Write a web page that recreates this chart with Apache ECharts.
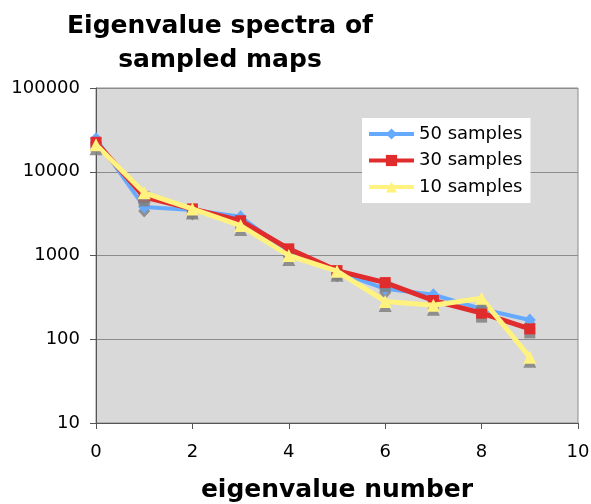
<!DOCTYPE html>
<html>
<head>
<meta charset="utf-8">
<script src="https://cdn.jsdelivr.net/npm/echarts@6/dist/echarts.min.js"></script>
<style>
  html, body { margin: 0; padding: 0; background: #fff; }
  #chart { width: 591px; height: 504px; }
</style>
</head>
<body>
<div id="chart"></div>
<script>
// ---- data ----
const eigenIndex = [0, 1, 2, 3, 4, 5, 6, 7, 8, 9];
const samples50 = [24700, 3800, 3500, 2900, 1100, 640, 400, 340, 230, 170];
const samples30 = [22500, 5000, 3600, 2600, 1200, 660, 475, 290, 205, 133];
const samples10 = [21000, 5600, 3600, 2280, 1000, 650, 283, 254, 308, 61];
const seriesNames = ['50 samples', '30 samples', '10 samples'];
const xTicks = [0, 2, 4, 6, 8, 10];
const yTicks = [10, 100, 1000, 10000, 100000];

const FONT = 'DejaVu Sans';
function pairs(vals) { return eigenIndex.map((x, i) => [x, vals[i]]); }

const chart = echarts.init(document.getElementById('chart'), null, { renderer: 'canvas' });
const shadow = { shadowColor: 'rgba(128,128,128,0.85)', shadowBlur: 0, shadowOffsetX: 0, shadowOffsetY: 4 };

chart.setOption({
  animation: false,
  backgroundColor: '#ffffff',
  title: {
    text: 'Eigenvalue spectra of\nsampled maps',
    left: 220,
    top: 9,
    padding: 0,
    textAlign: 'center',
    textStyle: { fontFamily: FONT, fontSize: 25, fontWeight: 'bold', color: '#000', lineHeight: 34 }
  },
  legend: {
    orient: 'vertical',
    left: 362,
    top: 118,
    padding: [7, 8, 7, 5],
    itemGap: 8.5,
    itemWidth: 45,
    itemHeight: 14,
    backgroundColor: '#ffffff',
    data: seriesNames,
    lineStyle: { width: 4 },
    itemStyle: { shadowColor: 'rgba(0,0,0,0)', shadowOffsetY: 0 },
    textStyle: { fontFamily: FONT, fontSize: 18, color: '#000' }
  },
  grid: {
    left: 96, right: 13, top: 88, bottom: 81,
    outerBoundsMode: 'none',
    show: true,
    backgroundColor: '#d9d9d9',
    borderColor: '#8c8c8c',
    borderWidth: 1
  },
  xAxis: {
    type: 'value',
    min: 0, max: 10, interval: 2,
    name: 'eigenvalue number',
    nameLocation: 'middle',
    nameGap: 55,
    nameTextStyle: { fontFamily: FONT, fontSize: 25, fontWeight: 'bold', color: '#000' },
    axisLine: { show: true, lineStyle: { color: '#555', width: 1 } },
    axisTick: { show: true, length: 6, lineStyle: { color: '#555' } },
    axisLabel: {
      fontFamily: FONT, fontSize: 18, color: '#000', margin: 20,
      formatter: v => xTicks.includes(v) ? String(v) : ''
    },
    splitLine: { show: false }
  },
  yAxis: {
    type: 'log',
    logBase: 10,
    min: yTicks[0], max: yTicks[yTicks.length - 1],
    axisLine: { show: true, lineStyle: { color: '#555', width: 1 } },
    axisTick: { show: true, length: 6, lineStyle: { color: '#555' } },
    axisLabel: {
      fontFamily: FONT, fontSize: 18, color: '#000', margin: 16,
      formatter: v => String(Math.round(v))
    },
    splitLine: { show: true, lineStyle: { color: '#8c8c8c', width: 1 } }
  },
  series: [
    {
      name: seriesNames[0], type: 'line', data: pairs(samples50),
      symbol: 'diamond', symbolSize: [12, 13],
      lineStyle: { color: '#66aaff', width: 4 },
      itemStyle: Object.assign({ color: '#66aaff' }, shadow),
      z: 2
    },
    {
      name: seriesNames[1], type: 'line', data: pairs(samples30),
      symbol: 'rect', symbolSize: 11,
      lineStyle: { color: '#e02c2c', width: 5 },
      itemStyle: Object.assign({ color: '#e02c2c' }, shadow),
      z: 3
    },
    {
      name: seriesNames[2], type: 'line', data: pairs(samples10),
      symbol: 'triangle', symbolSize: 13,
      lineStyle: { color: '#fff27f', width: 5 },
      itemStyle: Object.assign({ color: '#fff27f' }, shadow),
      z: 4
    }
  ]
});
</script>
</body>
</html>
